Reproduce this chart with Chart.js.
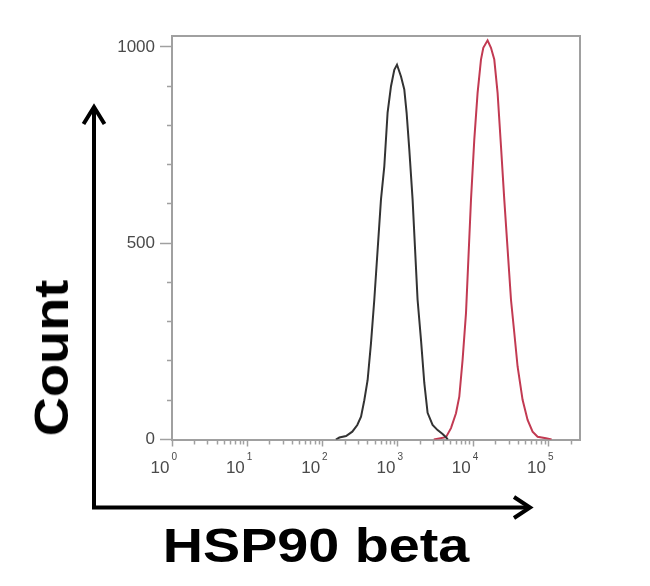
<!DOCTYPE html>
<html>
<head>
<meta charset="utf-8">
<script src="https://cdn.jsdelivr.net/npm/chart.js@4/dist/chart.umd.min.js"></script>
<style>
  html, body { margin: 0; padding: 0; background: #fff; }
  #wrap { position: relative; width: 650px; height: 586px; overflow: hidden; }
  #myChart { position: absolute; left: 0; top: 0; }
  .titulo {
    position: absolute;
    font-family: Arial, "Liberation Sans", sans-serif;
    font-weight: bold;
    font-size: 48px;
    line-height: 48px;
    color: #000;
    white-space: nowrap;
  }
  #titulo_x { left: 316px; top: 522px; transform: translateX(-50%) scaleX(1.16); }
  #titulo_y { left: 52px; top: 358px; transform: translate(-50%, -50%) rotate(-90deg) scaleX(1.13); }
</style>
</head>
<body>
<div id="wrap">
  <canvas id="myChart" width="650" height="586"></canvas>
  <div class="titulo" id="titulo_x">HSP90 beta</div>
  <div class="titulo" id="titulo_y">Count</div>
</div>
<script>
// histograma control (negro)
let control_fluor = [150, 167, 205, 248, 289, 324, 358, 396, 439, 486, 596, 660, 730, 810, 896, 973,
  1100, 1216, 1305, 1417, 1568, 1826, 2027, 2242, 2480, 2889, 3368, 3923, 4353, 4600];
let control_count = [0, 5, 9, 20, 37, 58, 100, 151, 245, 356, 611, 696, 833, 900, 942, 955,
  925, 892, 833, 739, 611, 356, 254, 144, 68, 37, 24, 14, 6, 0];

// histograma HSP90 beta (rojo)
let hsp_fluor = [3000, 4353, 5073, 5909, 6537, 7232, 8025, 9350, 10342, 11440, 12690, 13620, 15530,
  17230, 19060, 21090, 23400, 25880, 31770, 35140, 38870, 45290, 52780, 61500, 71660, 92640, 110000];
let hsp_count = [0, 6, 29, 67, 109, 203, 322, 611, 764, 883, 968, 998, 1017,
  998, 968, 883, 747, 611, 356, 272, 186, 101, 50, 20, 7, 3, 0];

// ejes
let decadas = [1, 10, 100, 1000, 10000, 100000];
let exponentes = ["0", "1", "2", "3", "4", "5"];
let ticks_y = [0, 100, 200, 300, 400, 500, 600, 700, 800, 900, 1000];
let etiquetas_y = [0, 500, 1000];
let x_min = 1, x_max = 262144;
let y_min = 0, y_max = 1028;

// marcas menores del eje log (2..9 por decada)
let ticks_x = [];
decadas.forEach((d) => {
  ticks_x.push({ value: d, major: true });
  for (let k = 2; k <= 9; k++) {
    if (k * d <= x_max) ticks_x.push({ value: k * d, major: false });
  }
});

const gris = "#a0a0a0";
const gris_texto = "#4a4a4a";

const marco_flechas = {
  id: "marco_flechas",
  beforeDatasetsDraw(chart) {
    const { ctx, chartArea: a } = chart;
    ctx.save();
    ctx.strokeStyle = gris;
    ctx.lineWidth = 2;
    ctx.beginPath();
    ctx.moveTo(a.left, a.top);
    ctx.lineTo(a.right, a.top);
    ctx.lineTo(a.right, a.bottom);
    ctx.stroke();
    ctx.restore();
  },
  afterDraw(chart) {
    const ctx = chart.ctx;
    const sx = chart.scales.x;
    ctx.save();
    // etiquetas 10^n con exponente pequeño
    ctx.fillStyle = gris_texto;
    decadas.forEach((d, i) => {
      let px = sx.getPixelForValue(d);
      ctx.font = "17px Arial, 'Liberation Sans'";
      ctx.textAlign = "right";
      ctx.textBaseline = "alphabetic";
      ctx.fillText("10", px - 2.5, 473);
      ctx.font = "10px Arial, 'Liberation Sans'";
      ctx.textAlign = "left";
      ctx.fillText(exponentes[i], px - 0.5, 460);
    });
    // flechas
    ctx.strokeStyle = "#000";
    ctx.lineWidth = 4;
    ctx.lineJoin = "miter";
    ctx.beginPath();
    ctx.moveTo(94, 107);
    ctx.lineTo(94, 507.5);
    ctx.lineTo(528, 507.5);
    ctx.stroke();
    ctx.beginPath();
    ctx.moveTo(83.5, 124);
    ctx.lineTo(94, 107);
    ctx.lineTo(104.5, 124);
    ctx.stroke();
    ctx.beginPath();
    ctx.moveTo(514, 497);
    ctx.lineTo(530, 507.5);
    ctx.lineTo(514, 518);
    ctx.stroke();
    ctx.restore();
  },
};

var my_chart = document.getElementById("myChart");

new Chart(my_chart, {
  type: "line",
  plugins: [marco_flechas],
  data: {
    datasets: [
      {
        label: "Control",
        data: control_fluor.map((v, i) => ({ x: v, y: control_count[i] })),
        borderColor: "#333333",
        borderWidth: 2,
        pointRadius: 0,
        tension: 0,
      },
      {
        label: "HSP90 beta",
        data: hsp_fluor.map((v, i) => ({ x: v, y: hsp_count[i] })),
        borderColor: "#c23a52",
        borderWidth: 2,
        pointRadius: 0,
        tension: 0,
      },
    ],
  },
  options: {
    responsive: false,
    animation: false,
    layout: { padding: { top: 36, right: 70, left: 0, bottom: 0 } },
    plugins: { legend: { display: false }, tooltip: { enabled: false } },
    scales: {
      x: {
        type: "logarithmic",
        min: x_min,
        max: x_max,
        afterBuildTicks: (s) => { s.ticks = ticks_x.map((t) => ({ ...t })); },
        afterFit: (s) => { s.height = 146.5; },
        ticks: {
          autoSkip: false,
          maxRotation: 0,
          display: true,
          callback: () => "",
        },
        grid: {
          drawOnChartArea: false,
          tickLength: 7,
          tickColor: gris,
          tickWidth: 1.5,
          tickBorderDash: (c) => (decadas.includes(c.tick.value) ? [] : [3.5, 100]),
        },
        border: { color: gris, width: 2 },
      },
      y: {
        type: "linear",
        min: y_min,
        max: y_max,
        afterBuildTicks: (s) => { s.ticks = ticks_y.map((v) => ({ value: v })); },
        afterFit: (s) => { s.width = 172; },
        ticks: {
          autoSkip: false,
          color: gris_texto,
          padding: 5,
          font: { family: "Arial", size: 17 },
          callback: (v) => (etiquetas_y.includes(v) ? String(v) : ""),
        },
        grid: {
          drawOnChartArea: false,
          tickLength: 12,
          tickColor: gris,
          tickWidth: 1.5,
          tickBorderDash: (c) => (etiquetas_y.includes(c.tick.value) ? [] : [0, 7, 5, 100]),
        },
        border: { color: gris, width: 2 },
      },
    },
  },
});
</script>
</body>
</html>
